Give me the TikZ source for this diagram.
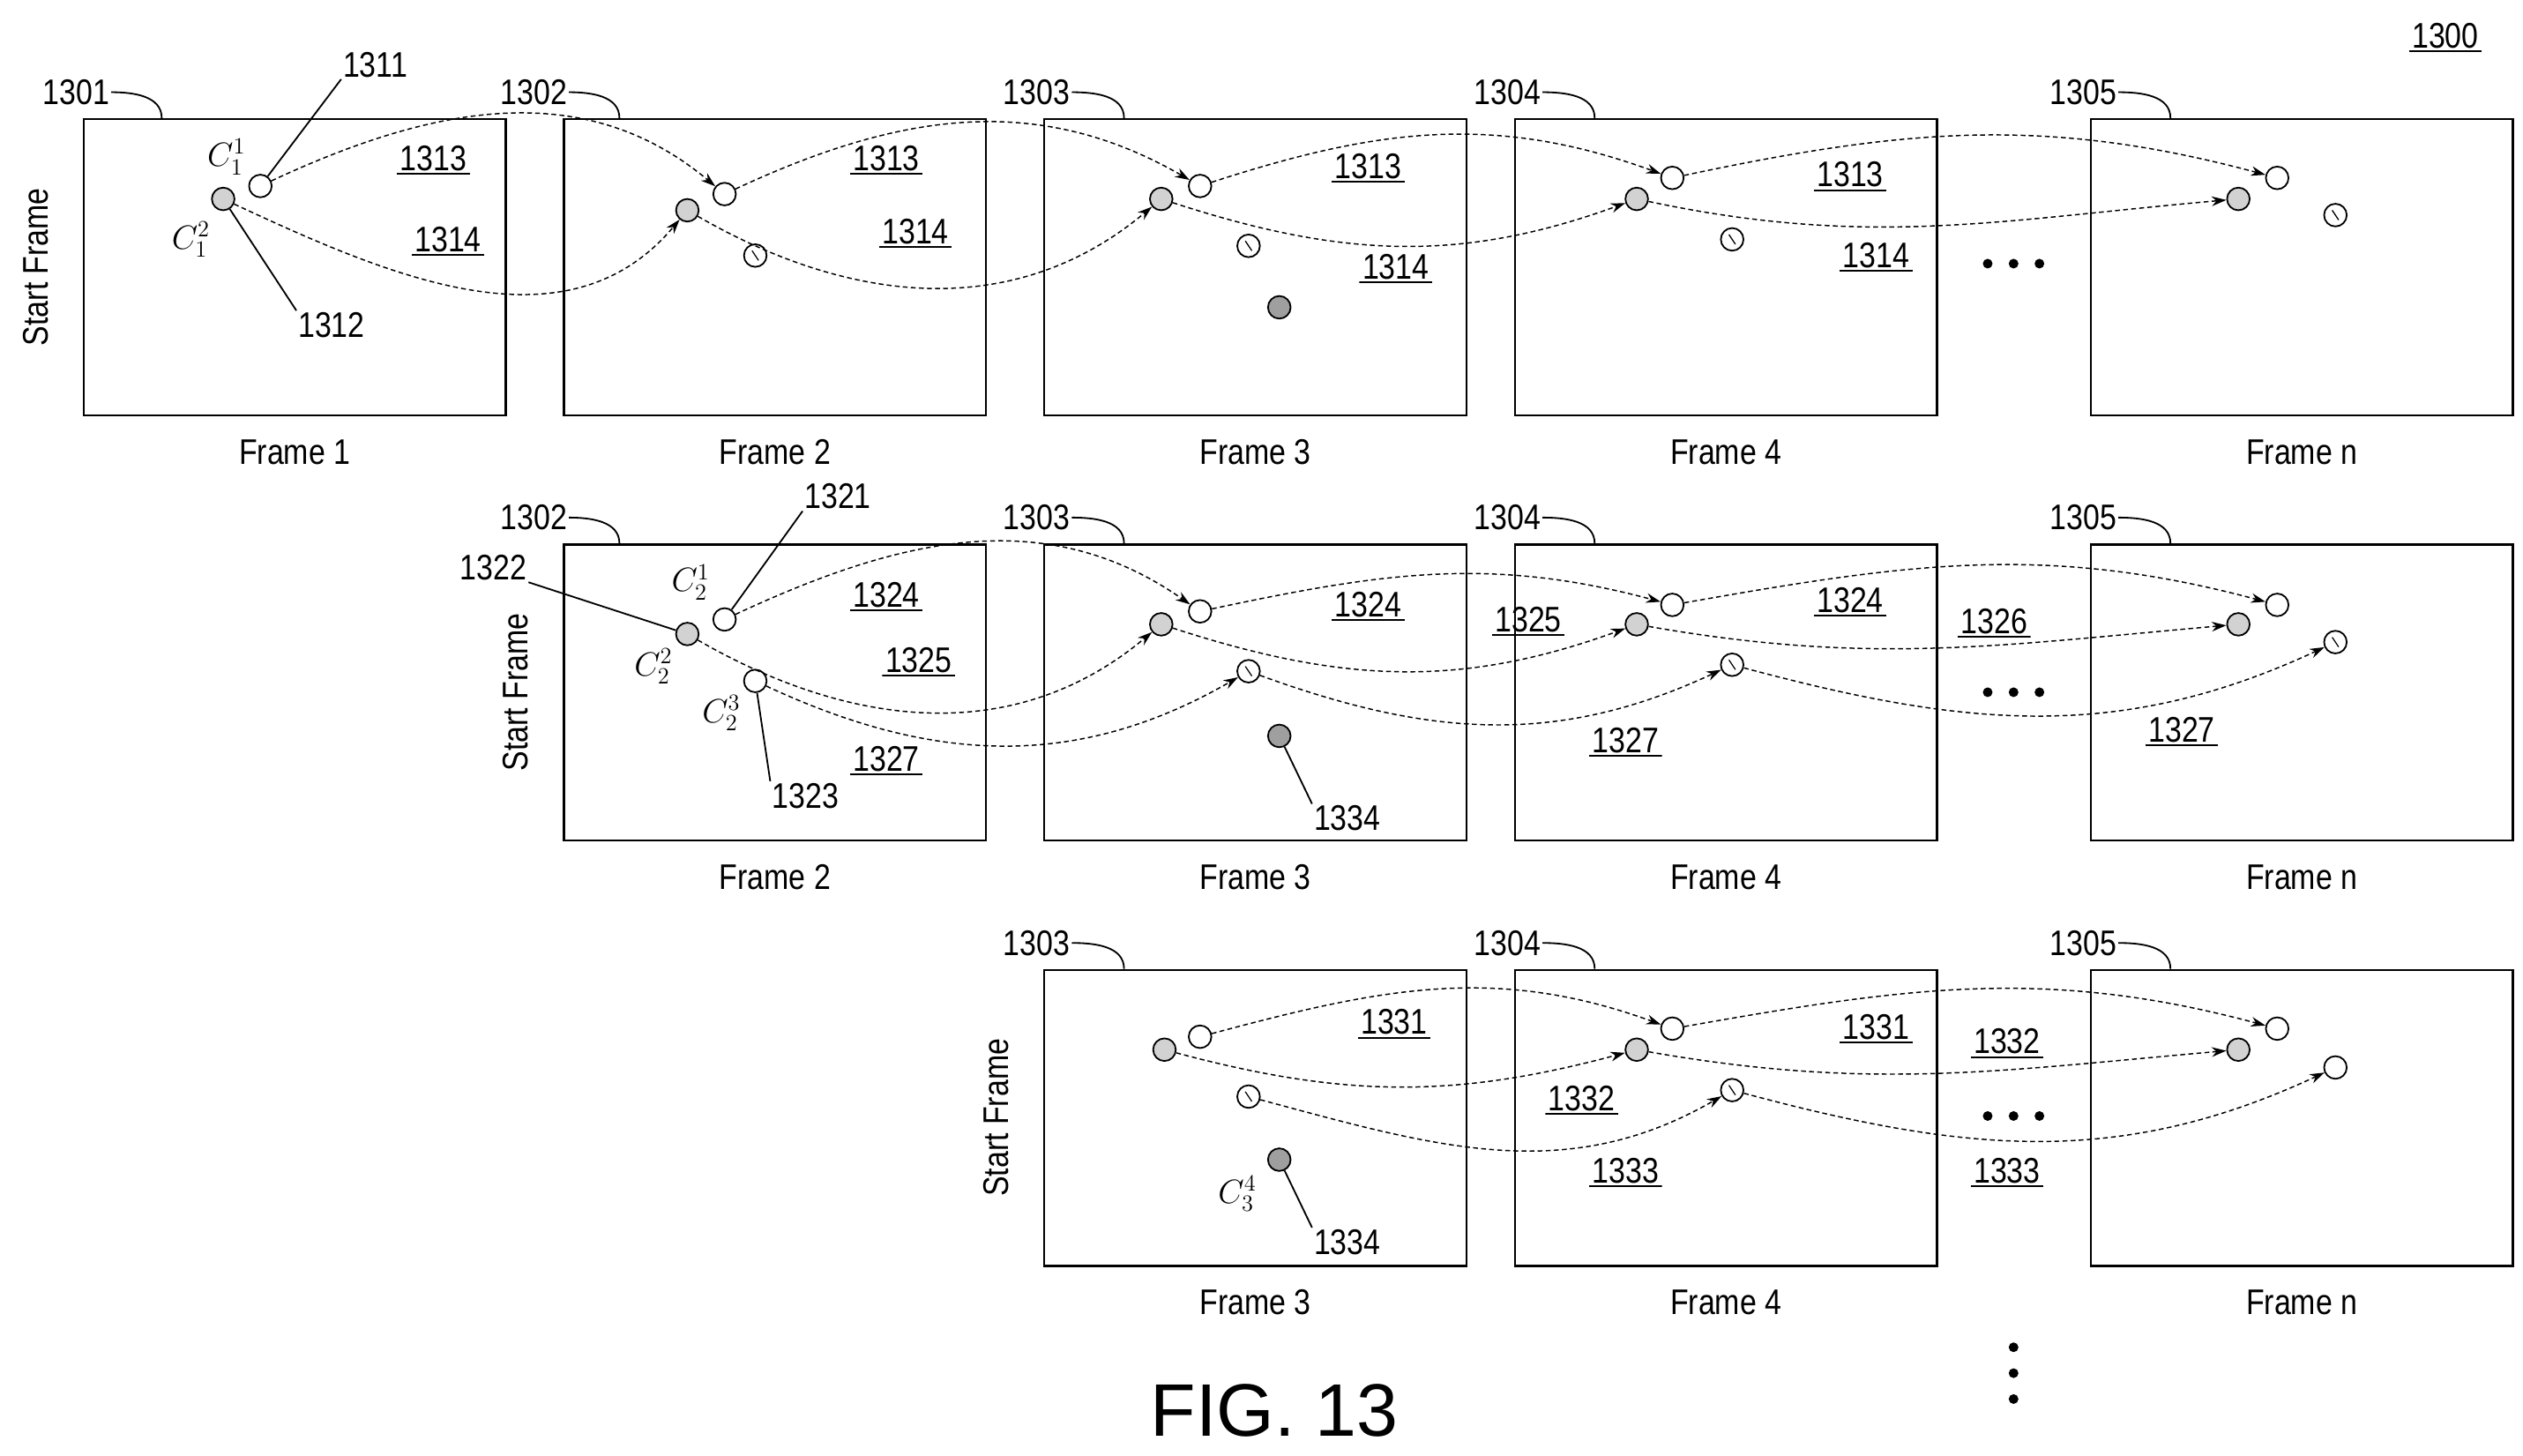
\documentclass[tikz,border=0pt]{standalone}
\usepackage{fontspec}
\setmainfont[FakeStretch=0.84]{Liberation Sans}
\newfontfamily\figfont{Liberation Sans}
\usepackage{amsmath}
\usetikzlibrary{arrows.meta,positioning}
\tikzset{
  frame/.style={draw,line width=1.4pt,anchor=north west,minimum width=261pt,minimum height=183pt,inner sep=0pt},
  pt/.style={draw,circle,line width=1pt,minimum size=14pt,inner sep=0pt,fill=white},
  gpt/.style={pt,fill=gray!35},
  dpt/.style={pt,fill=gray!75},
  spt/.style={pt,path picture={\draw[line width=0.7pt] ([shift={(-2pt,3pt)}]path picture bounding box.center) -- ([shift={(2pt,-3pt)}]path picture bounding box.center);}},
  track/.style={densely dashed,line width=0.8pt,-{Stealth[length=9pt,width=6pt]}},
  lead/.style={line width=1pt},
  ref/.style={font=\fontsize{22}{24}\selectfont,inner sep=1pt},
  uref/.style={ref,inner sep=2pt,path picture={\draw[line width=1.6pt] (path picture bounding box.south west) -- (path picture bounding box.south east);}},
  flabel/.style={font=\fontsize{22}{24}\selectfont},
  side/.style={font=\fontsize{22}{24}\selectfont,rotate=90},
  cname/.style={font=\fontsize{20}{22}\selectfont,inner sep=0pt},
  dot/.style={fill,circle,minimum size=6pt,inner sep=0pt},
}
\newcommand\refarc[3]{% label position, name, box top point
  \node[ref] (#2) at (#1) {#2};
  \draw[lead] (#2.east) to[out=0,in=90] (#3);
}
\newcommand\moredots[1]{% three dots, centre
  \foreach \d in {-16,0,16} \node[dot] at ([xshift=\d pt]#1) {};
}
\begin{document}
\begin{tikzpicture}[x=1pt,y=-1pt]
\useasboundingbox (0,0) rectangle (1560,900);

% ---------- row 1 ----------
\node[frame] (a1) at (51,73) {};
\node[frame] (a2) at (348,73) {};
\node[frame] (a3) at (645,73) {};
\node[frame] (a4) at (936,73) {};
\node[frame] (an) at (1292,73) {};
\foreach \f/\t in {a1/Frame 1,a2/Frame 2,a3/Frame 3,a4/Frame 4,an/Frame n}
  \node[flabel] at ([yshift=-22pt]\f.south) {\t};
\node[side] at (22,165) {Start Frame};
\refarc{47,57}{1301}{100,73}
\refarc{330,57}{1302}{383,73}
\refarc{641,57}{1303}{695,73}
\refarc{932,57}{1304}{986,73}
\refarc{1288,57}{1305}{1342,73}
\node[uref] at (1512,22) {1300};

\node[gpt] (a1g) at (138,123) {};
\node[pt]  (a1w) at (161,115) {};
\node[gpt] (a2g) at (425,130) {};
\node[pt]  (a2w) at (448,120) {};
\node[spt] (a2s) at (467,158) {};
\node[gpt] (a3g) at (718,123) {};
\node[pt]  (a3w) at (742,115) {};
\node[spt] (a3s) at (772,152) {};
\node[dpt] (a3d) at (791,190) {};
\node[gpt] (a4g) at (1012,123) {};
\node[pt]  (a4w) at (1034,110) {};
\node[spt] (a4s) at (1071,148) {};
\node[gpt] (ang) at (1384,123) {};
\node[pt]  (anw) at (1408,110) {};
\node[spt] (ans) at (1444,133) {};

\draw[track] (a1w) to[out=25,in=140] (a2w);
\draw[track] (a1g) to[out=-25,in=-130] (a2g);
\draw[track] (a2w) to[out=25,in=150] (a3w);
\draw[track] (a2g) to[out=-30,in=-140] (a3g);
\draw[track] (a3w) to[out=18,in=160] (a4w);
\draw[track] (a3g) to[out=-18,in=-160] (a4g);
\draw[track] (a4w) to[out=12,in=165] (anw);
\draw[track] (a4g) to[out=-12,in=-175] (ang);

\node[cname] at (140,97) {$C_1^1$};
\node[cname] at (118,148) {$C_1^2$};
\node[ref] (1311) at (232,40) {1311};
\draw[lead] (a1w) -- (1311.south west);
\node[ref] (1312) at (205,201) {1312};
\draw[lead] (a1g) -- (1312.north west);
\foreach \x/\y in {268/98,548/98,846/103,1144/108} \node[uref] at (\x,\y) {1313};
\foreach \x/\y in {277/148,566/143,863/165,1160/158} \node[uref] at (\x,\y) {1314};
\moredots{1245,163}

% ---------- row 2 ----------
\node[frame] (b2) at (348,336) {};
\node[frame] (b3) at (645,336) {};
\node[frame] (b4) at (936,336) {};
\node[frame] (bn) at (1292,336) {};
\foreach \f/\t in {b2/Frame 2,b3/Frame 3,b4/Frame 4,bn/Frame n}
  \node[flabel] at ([yshift=-22pt]\f.south) {\t};
\node[side] at (319,428) {Start Frame};
\refarc{330,320}{1302}{383,336}
\refarc{641,320}{1303}{695,336}
\refarc{932,320}{1304}{986,336}
\refarc{1288,320}{1305}{1342,336}

\node[gpt] (b2g) at (425,392) {};
\node[pt]  (b2w) at (448,383) {};
\node[pt]  (b2s) at (467,421) {};
\node[gpt] (b3g) at (718,386) {};
\node[pt]  (b3w) at (742,378) {};
\node[spt] (b3s) at (772,415) {};
\node[dpt] (b3d) at (791,455) {};
\node[gpt] (b4g) at (1012,386) {};
\node[pt]  (b4w) at (1034,374) {};
\node[spt] (b4s) at (1071,411) {};
\node[gpt] (bng) at (1384,386) {};
\node[pt]  (bnw) at (1408,374) {};
\node[spt] (bns) at (1444,397) {};

\draw[track] (b2w) to[out=25,in=145] (b3w);
\draw[track] (b2g) to[out=-30,in=-140] (b3g);
\draw[track] (b2s) to[out=-25,in=-150] (b3s);
\draw[track] (b3w) to[out=12,in=165] (b4w);
\draw[track] (b3g) to[out=-18,in=-160] (b4g);
\draw[track] (b3s) to[out=-20,in=-155] (b4s);
\draw[track] (b4w) to[out=10,in=165] (bnw);
\draw[track] (b4g) to[out=-10,in=-175] (bng);
\draw[track] (b4s) to[out=-15,in=-155] (bns);

\node[cname] at (427,360) {$C_2^1$};
\node[cname] at (404,412) {$C_2^2$};
\node[cname] at (446,441) {$C_2^3$};
\node[ref] (1321) at (518,307) {1321};
\draw[lead] (b2w) -- (1321.south west);
\node[ref] (1322) at (305,351) {1322};
\draw[lead] (b2g) -- (1322.south east);
\node[ref] (1323) at (498,492) {1323};
\draw[lead] (b2s) -- (1323.north west);
\node[ref] (1334b) at (833,506) {1334};
\draw[lead] (b3d) -- (1334b.north west);
\foreach \x/\y in {548/368,846/374,1144/371} \node[uref] at (\x,\y) {1324};
\foreach \x/\y in {568/408,945/383} \node[uref] at (\x,\y) {1325};
\node[uref] at (1233,384) {1326};
\foreach \x/\y in {548/469,1005/458,1349/451} \node[uref] at (\x,\y) {1327};
\moredots{1245,428}

% ---------- row 3 ----------
\node[frame] (c3) at (645,599) {};
\node[frame] (c4) at (936,599) {};
\node[frame] (cn) at (1292,599) {};
\foreach \f/\t in {c3/Frame 3,c4/Frame 4,cn/Frame n}
  \node[flabel] at ([yshift=-22pt]\f.south) {\t};
\node[side] at (616,691) {Start Frame};
\refarc{641,583}{1303}{695,599}
\refarc{932,583}{1304}{986,599}
\refarc{1288,583}{1305}{1342,599}

\node[gpt] (c3g) at (720,649) {};
\node[pt]  (c3w) at (742,641) {};
\node[spt] (c3s) at (772,678) {};
\node[dpt] (c3d) at (791,717) {};
\node[gpt] (c4g) at (1012,649) {};
\node[pt]  (c4w) at (1034,636) {};
\node[spt] (c4s) at (1071,674) {};
\node[gpt] (cng) at (1384,649) {};
\node[pt]  (cnw) at (1408,636) {};
\node[pt]  (cns) at (1444,660) {};

\draw[track] (c3w) to[out=15,in=160] (c4w);
\draw[track] (c3g) to[out=-15,in=-165] (c4g);
\draw[track] (c3s) to[out=-15,in=-150] (c4s);
\draw[track] (c4w) to[out=10,in=165] (cnw);
\draw[track] (c4g) to[out=-10,in=-175] (cng);
\draw[track] (c4s) to[out=-15,in=-155] (cns);

\node[cname] at (765,738) {$C_3^4$};
\node[ref] (1334c) at (833,768) {1334};
\draw[lead] (c3d) -- (1334c.north west);
\foreach \x/\y in {862/632,1160/635} \node[uref] at (\x,\y) {1331};
\foreach \x/\y in {978/679,1241/644} \node[uref] at (\x,\y) {1332};
\foreach \x/\y in {1005/724,1241/724} \node[uref] at (\x,\y) {1333};
\moredots{1245,690}
\foreach \d in {-16,0,16} \node[dot] at (1245,849+\d) {};

\node[font=\figfont\fontsize{46}{50}\selectfont] at (788,872) {FIG. 13};
\end{tikzpicture}
\end{document}
